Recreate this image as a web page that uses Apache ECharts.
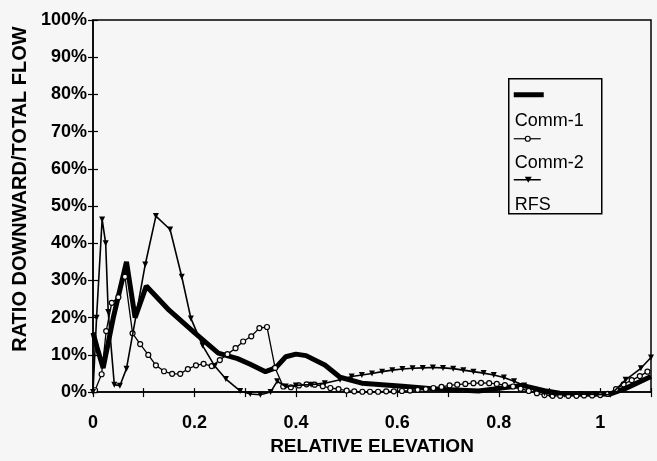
<!DOCTYPE html>
<html><head><meta charset="utf-8">
<script src="https://cdn.jsdelivr.net/npm/echarts@6/dist/echarts.min.js"></script>
<style>html,body{margin:0;padding:0;background:#f6f6f6}#c{width:657px;height:461px}</style>
</head><body><div id="c"></div>
<script>
const seriesNames = ['Comm-1', 'Comm-2', 'RFS'];
const xTickLabels = ['0', '0.2', '0.4', '0.6', '0.8', '1'];
const yTickLabels = ['0%', '10%', '20%', '30%', '40%', '50%', '60%', '70%', '80%', '90%', '100%'];
const xAxisTitle = 'RELATIVE ELEVATION';
const yAxisTitle = 'RATIO DOWNWARD/TOTAL FLOW';

// Comm-1 (thick line)
const comm1X = [0, 0.008, 0.02, 0.04, 0.066, 0.083, 0.105, 0.15, 0.2, 0.247, 0.285, 0.31, 0.34, 0.36, 0.38, 0.4, 0.42, 0.457, 0.487, 0.53, 0.61, 0.68, 0.76, 0.8, 0.846, 0.89, 0.92, 0.97, 1.02, 1.05, 1.1];
const comm1Y = [16, 12, 6.5, 20, 35, 20, 28.5, 22, 16, 10.5, 9, 7.5, 5.5, 6.5, 9.5, 10.2, 9.8, 7.3, 4, 2.4, 1.6, 0.8, 0.3, 1, 1.8, 0.4, -0.3, -0.6, -0.5, 1, 4.2];

// Comm-2 (open circles)
const comm2X = [0.004, 0.017, 0.026, 0.037, 0.05, 0.063, 0.078, 0.093, 0.109, 0.124, 0.14, 0.156, 0.172, 0.187, 0.203, 0.218, 0.234, 0.25, 0.265, 0.281, 0.296, 0.312, 0.328, 0.343, 0.359, 0.375, 0.39, 0.406, 0.421, 0.437, 0.453, 0.468, 0.484, 0.5, 0.515, 0.531, 0.546, 0.562, 0.578, 0.593, 0.609, 0.625, 0.64, 0.656, 0.671, 0.687, 0.703, 0.718, 0.734, 0.75, 0.765, 0.781, 0.796, 0.812, 0.828, 0.843, 0.859, 0.875, 0.89, 0.906, 0.921, 0.937, 0.953, 0.968, 0.984, 1.0, 1.015, 1.031, 1.046, 1.062, 1.078, 1.093];
const comm2Y = [0.5, 4.8, 16.4, 24, 25.5, 31, 15.8, 12.9, 10, 7.2, 5.6, 4.9, 4.9, 6.2, 7.2, 7.6, 7, 8.6, 10.2, 11.8, 13.6, 15, 17.2, 17.5, 6.5, 1.5, 1.3, 1.8, 2.1, 2, 1.6, 1.1, 0.8, 0.4, 0.2, 0.1, 0.1, 0.1, 0.2, 0.2, 0.3, 0.4, 0.6, 0.8, 1.1, 1.4, 1.8, 2, 2.2, 2.4, 2.5, 2.4, 2.2, 1.9, 1.5, 0.9, 0.3, -0.3, -0.8, -1, -1, -1, -1, -0.9, -0.9, -0.8, -0.5, 0.8, 2.1, 3.2, 4.3, 5.5];

// RFS (down triangles)
const rfsX = [0, 0.007, 0.018, 0.025, 0.03, 0.042, 0.053, 0.066, 0.103, 0.124, 0.152, 0.175, 0.193, 0.216, 0.24, 0.262, 0.29, 0.31, 0.33, 0.35, 0.363, 0.38, 0.4, 0.43, 0.457, 0.487, 0.51, 0.53, 0.55, 0.57, 0.59, 0.61, 0.63, 0.65, 0.67, 0.69, 0.71, 0.73, 0.75, 0.77, 0.79, 0.81, 0.83, 0.85, 0.87, 0.89, 0.91, 0.93, 0.96, 0.99, 1.02, 1.05, 1.08, 1.1];
const rfsY = [0, 20, 46.4, 40, 21.5, 2, 1.7, 6.3, 34.3, 47.3, 43.7, 31, 19.8, 12.5, 7, 3.5, 0.3, -0.5, -0.7, 0, 2.9, 1.5, 1.8, 2, 2.4, 3.3, 4.2, 4.6, 5, 5.5, 5.9, 6.2, 6.4, 6.5, 6.6, 6.5, 6.3, 5.9, 5.5, 5.1, 4.6, 3.9, 2.9, 1.8, 0.6, -0.3, -0.6, -0.7, -0.5, -0.6, -0.7, 3.3, 6.4, 9.3];

const zip = (xs, ys) => xs.map((x, i) => [x, ys[i]]);
const FONT = 'Liberation Sans';
const BG = '#f6f6f6';

const chart = echarts.init(document.getElementById('c'), null, {renderer: 'canvas'});
const yAxisBase = {
  type: 'value', min: 0, max: 100, interval: 10,
  axisLine: {show: true, lineStyle: {color: '#000', width: 1.5}},
  splitLine: {show: false}
};
chart.setOption({
  backgroundColor: BG,
  animation: false,
  grid: {left: 93, right: 6, top: 20, bottom: 63, show: true, borderColor: '#000', borderWidth: 1.5, backgroundColor: 'transparent'},
  xAxis: [{
    type: 'value', min: 0, max: 1.1, interval: 0.1,
    axisLine: {lineStyle: {color: '#000', width: 1.5}},
    axisTick: {length: 5, lineStyle: {color: '#000', width: 1.2}},
    splitLine: {show: false},
    axisLabel: {
      margin: 22, color: '#000', fontFamily: FONT, fontWeight: 'bold', fontSize: 18,
      formatter: v => { const k = Math.round(v * 10); return k % 2 === 0 ? (xTickLabels[k / 2] || '') : ''; }
    },
    name: xAxisTitle, nameLocation: 'middle', nameGap: 43,
    nameTextStyle: {color: '#000', fontFamily: FONT, fontWeight: 'bold', fontSize: 19}
  }, {
    type: 'value', min: 0, max: 1.1, interval: 0.1, position: 'bottom',
    axisLine: {show: false}, axisLabel: {show: false}, splitLine: {show: false},
    axisTick: {inside: true, length: 4, lineStyle: {color: '#000', width: 1.2}}
  }],
  yAxis: [Object.assign({}, yAxisBase, {
    axisTick: {length: 5, lineStyle: {color: '#000', width: 1.2}},
    axisLabel: {margin: 6, color: '#000', fontFamily: FONT, fontWeight: 'bold', fontSize: 18,
      formatter: v => yTickLabels[Math.round(v / 10)]},
    name: yAxisTitle, nameLocation: 'middle', nameGap: 63, nameRotate: 90,
    nameTextStyle: {color: '#000', fontFamily: FONT, fontWeight: 'bold', fontSize: 20, padding: [0, 0, 0, 34]}
  }), Object.assign({}, yAxisBase, {
    position: 'left', axisLine: {show: false}, axisLabel: {show: false},
    axisTick: {inside: true, length: 5, lineStyle: {color: '#000', width: 1.2}}
  })],
  series: [{
    name: seriesNames[0], type: 'line', data: zip(comm1X, comm1Y), clip: false,
    showSymbol: false, symbol: 'none', lineStyle: {color: '#000', width: 5}, z: 3
  }, {
    name: seriesNames[1], type: 'line', data: zip(comm2X, comm2Y), clip: false,
    symbol: 'circle', symbolSize: 5, itemStyle: {color: BG, borderColor: '#000', borderWidth: 1.2},
    lineStyle: {color: '#000', width: 1.3}, z: 4
  }, {
    name: seriesNames[2], type: 'line', data: zip(rfsX, rfsY), clip: false,
    symbol: 'triangle', symbolRotate: 180, symbolSize: 6, itemStyle: {color: '#000'},
    lineStyle: {color: '#000', width: 1.6}, z: 5
  }],
  graphic: [{
    type: 'group', left: 508, top: 78,
    children: [
      {type: 'rect', shape: {x: 0, y: 0, width: 93, height: 135}, style: {fill: BG, stroke: '#000', lineWidth: 1.5}},
      {type: 'line', shape: {x1: 5, y1: 16, x2: 35, y2: 16}, style: {stroke: '#000', lineWidth: 5}},
      {type: 'text', x: 6, y: 42, style: {text: seriesNames[0], fill: '#000', font: '18px "Liberation Sans"', verticalAlign: 'middle'}},
      {type: 'line', shape: {x1: 5, y1: 60, x2: 32, y2: 60}, style: {stroke: '#000', lineWidth: 1.2}},
      {type: 'circle', shape: {cx: 19, cy: 60, r: 2.5}, style: {fill: BG, stroke: '#000', lineWidth: 1.2}},
      {type: 'text', x: 6, y: 84, style: {text: seriesNames[1], fill: '#000', font: '18px "Liberation Sans"', verticalAlign: 'middle'}},
      {type: 'line', shape: {x1: 5, y1: 101, x2: 32, y2: 101}, style: {stroke: '#000', lineWidth: 1.5}},
      {type: 'polygon', shape: {points: [[16, 98], [23, 98], [19.5, 104]]}, style: {fill: '#000'}},
      {type: 'text', x: 6, y: 126, style: {text: seriesNames[2], fill: '#000', font: '18px "Liberation Sans"', verticalAlign: 'middle'}}
    ]
  }]
});
</script>
</body></html>
